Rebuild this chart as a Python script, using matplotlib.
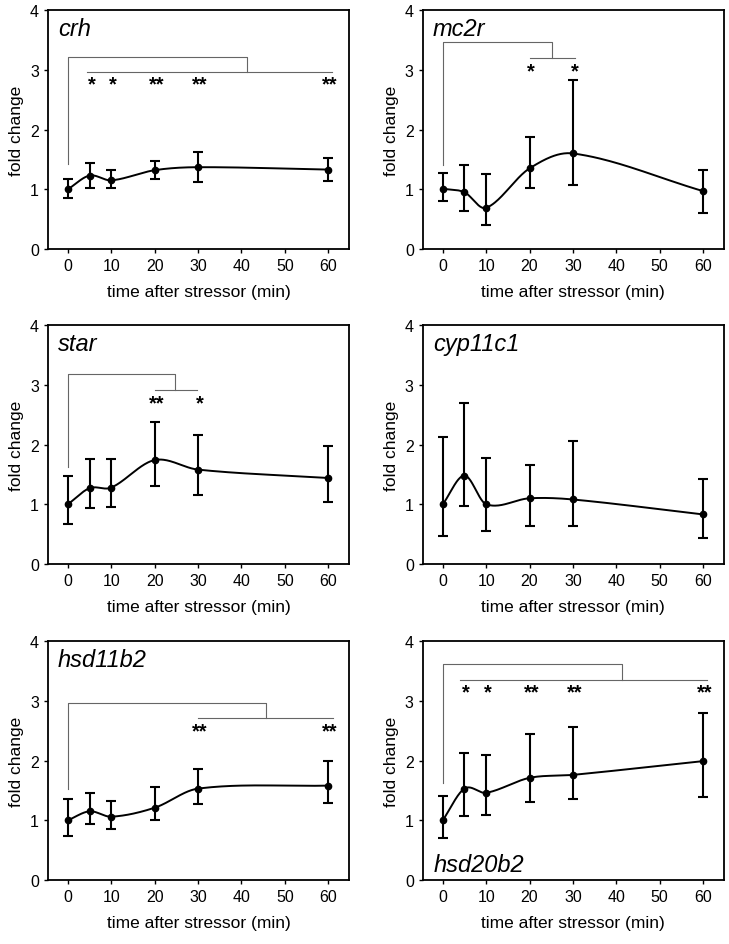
import matplotlib
matplotlib.use('Agg')
import matplotlib.pyplot as plt
import numpy as np

plt.rcParams['font.family'] = ['Liberation Sans', 'DejaVu Sans']

times = [0, 5, 10, 20, 30, 60]
genes = ['crh', 'mc2r', 'star', 'cyp11c1', 'hsd11b2', 'hsd20b2']

# mean fold change and the bottom / top of each error bar
crh_mean = [1.00, 1.23, 1.15, 1.32, 1.37, 1.33]
crh_low = [0.85, 1.02, 1.03, 1.17, 1.12, 1.14]
crh_high = [1.17, 1.44, 1.32, 1.48, 1.62, 1.52]

mc2r_mean = [1.01, 0.95, 0.69, 1.35, 1.60, 0.97]
mc2r_low = [0.80, 0.63, 0.40, 1.03, 1.08, 0.60]
mc2r_high = [1.27, 1.41, 1.26, 1.88, 2.83, 1.32]

star_mean = [1.00, 1.27, 1.28, 1.74, 1.58, 1.44]
star_low = [0.67, 0.93, 0.95, 1.31, 1.15, 1.03]
star_high = [1.48, 1.75, 1.76, 2.37, 2.16, 1.97]

cyp11c1_mean = [1.00, 1.48, 1.00, 1.10, 1.08, 0.83]
cyp11c1_low = [0.47, 0.97, 0.55, 0.63, 0.64, 0.44]
cyp11c1_high = [2.13, 2.70, 1.77, 1.66, 2.06, 1.43]

hsd11b2_mean = [1.00, 1.15, 1.06, 1.21, 1.53, 1.58]
hsd11b2_low = [0.73, 0.94, 0.85, 1.00, 1.27, 1.29]
hsd11b2_high = [1.36, 1.45, 1.32, 1.55, 1.85, 2.00]

hsd20b2_mean = [1.00, 1.53, 1.46, 1.71, 1.76, 1.99]
hsd20b2_low = [0.71, 1.07, 1.09, 1.31, 1.36, 1.39]
hsd20b2_high = [1.41, 2.13, 2.09, 2.44, 2.56, 2.80]

# significance vs. time 0
crh_sig = {5: '*', 10: '*', 20: '**', 30: '**', 60: '**'}
mc2r_sig = {20: '*', 30: '*'}
star_sig = {20: '**', 30: '*'}
cyp11c1_sig = {}
hsd11b2_sig = {30: '**', 60: '**'}
hsd20b2_sig = {5: '*', 10: '*', 20: '**', 30: '**', 60: '**'}

data = {
    'crh': (crh_mean, crh_low, crh_high, crh_sig),
    'mc2r': (mc2r_mean, mc2r_low, mc2r_high, mc2r_sig),
    'star': (star_mean, star_low, star_high, star_sig),
    'cyp11c1': (cyp11c1_mean, cyp11c1_low, cyp11c1_high, cyp11c1_sig),
    'hsd11b2': (hsd11b2_mean, hsd11b2_low, hsd11b2_high, hsd11b2_sig),
    'hsd20b2': (hsd20b2_mean, hsd20b2_low, hsd20b2_high, hsd20b2_sig),
}

# bracket drawing: start y, top y, split x, lower y, lower line from/to
brackets = {
    'crh': (1.42, 3.22, 41.3, 2.97, 4.4, 60.8),
    'mc2r': (1.40, 3.46, 25.2, 3.19, 20.0, 30.4),
    'star': (1.62, 3.18, 24.6, 2.91, 20.0, 29.8),
    'hsd11b2': (1.53, 2.97, 45.7, 2.71, 30.0, 61.0),
    'hsd20b2': (1.62, 3.61, 41.3, 3.35, 4.0, 60.9),
}


def smooth_curve(x, y, n=40):
    # cardinal (catmull-rom like) hermite spline through the points
    x = np.asarray(x, float)
    y = np.asarray(y, float)
    m = np.zeros_like(y)
    m[0] = (y[1] - y[0]) / (x[1] - x[0])
    m[-1] = (y[-1] - y[-2]) / (x[-1] - x[-2])
    for i in range(1, len(x) - 1):
        m[i] = (y[i + 1] - y[i - 1]) / (x[i + 1] - x[i - 1])
    xs, ys = [], []
    for i in range(len(x) - 1):
        h = x[i + 1] - x[i]
        t = np.linspace(0, 1, n)
        h00 = 2 * t**3 - 3 * t**2 + 1
        h10 = t**3 - 2 * t**2 + t
        h01 = -2 * t**3 + 3 * t**2
        h11 = t**3 - t**2
        xs.append(x[i] + t * h)
        ys.append(h00 * y[i] + h10 * h * m[i] + h01 * y[i + 1] + h11 * h * m[i + 1])
    return np.concatenate(xs), np.concatenate(ys)


fig = plt.figure(figsize=(7.29, 9.45), dpi=100)
lefts = [0.0658, 0.580]
bottoms = [0.7354, 0.4021, 0.0677]
w, h = 0.413, 0.2529

for idx, gene in enumerate(genes):
    row, col = idx // 2, idx % 2
    ax = fig.add_axes([lefts[col], bottoms[row], w, h])
    mean, low, high, sig = data[gene]
    mean = np.array(mean)
    yerr = [mean - np.array(low), np.array(high) - mean]

    sx, sy = smooth_curve(times, mean)
    ax.plot(sx, sy, color='black', lw=1.4, zorder=3)
    ax.errorbar(times, mean, yerr=yerr, fmt='o', color='black', ms=4.5,
                elinewidth=1.5, capsize=3.3, capthick=1.5, zorder=4)

    if gene in brackets:
        y0, ytop, xs, ylow, xa, xb = brackets[gene]
        bc = '#666666'
        ax.plot([0, 0, xs, xs], [y0, ytop, ytop, ylow], color=bc, lw=0.8)
        ax.plot([xa, xb], [ylow, ylow], color=bc, lw=0.8)
        for t, s in sig.items():
            ax.text(t + 0.4, ylow - 0.05, s, ha='center', va='top',
                    fontsize=14.5, fontweight='bold')

    if gene == 'hsd20b2':
        ax.text(0.037, 0.039, gene, transform=ax.transAxes, fontsize=17,
                style='italic', va='baseline', ha='left')
    else:
        ax.text(0.033, 0.897, gene, transform=ax.transAxes, fontsize=17,
                style='italic', va='baseline', ha='left')

    ax.set_xlim(-4.6, 64.8)
    ax.set_ylim(0, 4)
    ax.set_xticks([0, 10, 20, 30, 40, 50, 60])
    ax.set_yticks([0, 1, 2, 3, 4])
    ax.tick_params(labelsize=11.5, length=3, width=1, direction='out',
                   top=False, right=False)
    for sp in ax.spines.values():
        sp.set_linewidth(1.3)
    ax.set_xlabel('time after stressor (min)', fontsize=12.5, labelpad=8)
    ax.set_ylabel('fold change', fontsize=12.5, labelpad=4)

fig.savefig('out.png', dpi=100)
